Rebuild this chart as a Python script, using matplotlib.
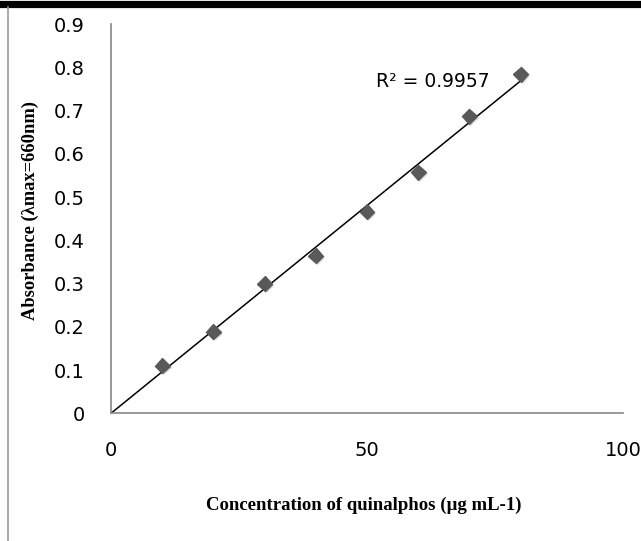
import numpy as np
from matplotlib import pyplot as plt
from matplotlib import patheffects as pe
from matplotlib.lines import Line2D

# Calibration data
conc = np.array([10, 20, 30, 40, 50, 60, 70, 80])
absorb = np.array([0.110, 0.189, 0.300, 0.364, 0.466, 0.557, 0.687, 0.784])
r2_text = "R² = 0.9957"
x_ticks = [0, 50, 100]
y_ticks = [0, 0.1, 0.2, 0.3, 0.4, 0.5, 0.6, 0.7, 0.8, 0.9]
y_tick_labels = ["0", "0.1", "0.2", "0.3", "0.4", "0.5", "0.6", "0.7", "0.8", "0.9"]

fig = plt.figure(figsize=(6.41, 5.41), dpi=100)
ax = fig.add_axes([111 / 641, 1 - 413.3 / 541, 512 / 641, 389.3 / 541])

# linear trendline forced through origin
slope = np.sum(conc * absorb) / np.sum(conc ** 2)
xs = np.array([0, conc.max()])
ax.plot(xs, slope * xs, color="black", lw=1.1, zorder=2)

ax.plot(conc, absorb, linestyle="none", marker="D", ms=7.5, color="#595959",
        mec="#595959", zorder=3,
        path_effects=[pe.SimplePatchShadow(offset=(1.5, -1.5), shadow_rgbFace="#b8b8b8", alpha=0.5),
                      pe.Normal()])

ax.text(74, 0.766, r2_text, ha="right", va="center", fontsize=13.5)

ax.set_xlim(0, 100)
ax.set_ylim(0, 0.9)
ax.set_xticks(x_ticks)
ax.set_xticklabels([str(t) for t in x_ticks])
ax.set_yticks(y_ticks)
ax.set_yticklabels(y_tick_labels)
ax.tick_params(length=0, labelsize=14)
ax.tick_params(axis="y", pad=19)
ax.tick_params(axis="x", pad=20)

for side in ["top", "right"]:
    ax.spines[side].set_visible(False)
for side in ["left", "bottom"]:
    ax.spines[side].set_color("#868686")
    ax.spines[side].set_linewidth(1.2)

fig.text(30 / 641, 1 - 211 / 541, "Absorbance (λmax=660nm)", rotation=90,
         ha="center", va="center", fontsize=13.3, fontweight="bold",
         family=["Liberation Serif", "DejaVu Serif"])
fig.text(364 / 641, 1 - 505 / 541, "Concentration of quinalphos (µg mL-1)",
         ha="center", va="center", fontsize=13.5, fontweight="bold",
         family=["Liberation Serif", "DejaVu Serif"])

# page borders: thick top rule and thin left rule
fig.add_artist(Line2D([0, 1], [1 - 3.5 / 541, 1 - 3.5 / 541], transform=fig.transFigure,
                      color="black", lw=5.2))
fig.add_artist(Line2D([8 / 641, 8 / 641], [0, 1 - 7 / 541], transform=fig.transFigure,
                      color="#9a9a9a", lw=1.2))

fig.savefig("out.png", dpi=100)
